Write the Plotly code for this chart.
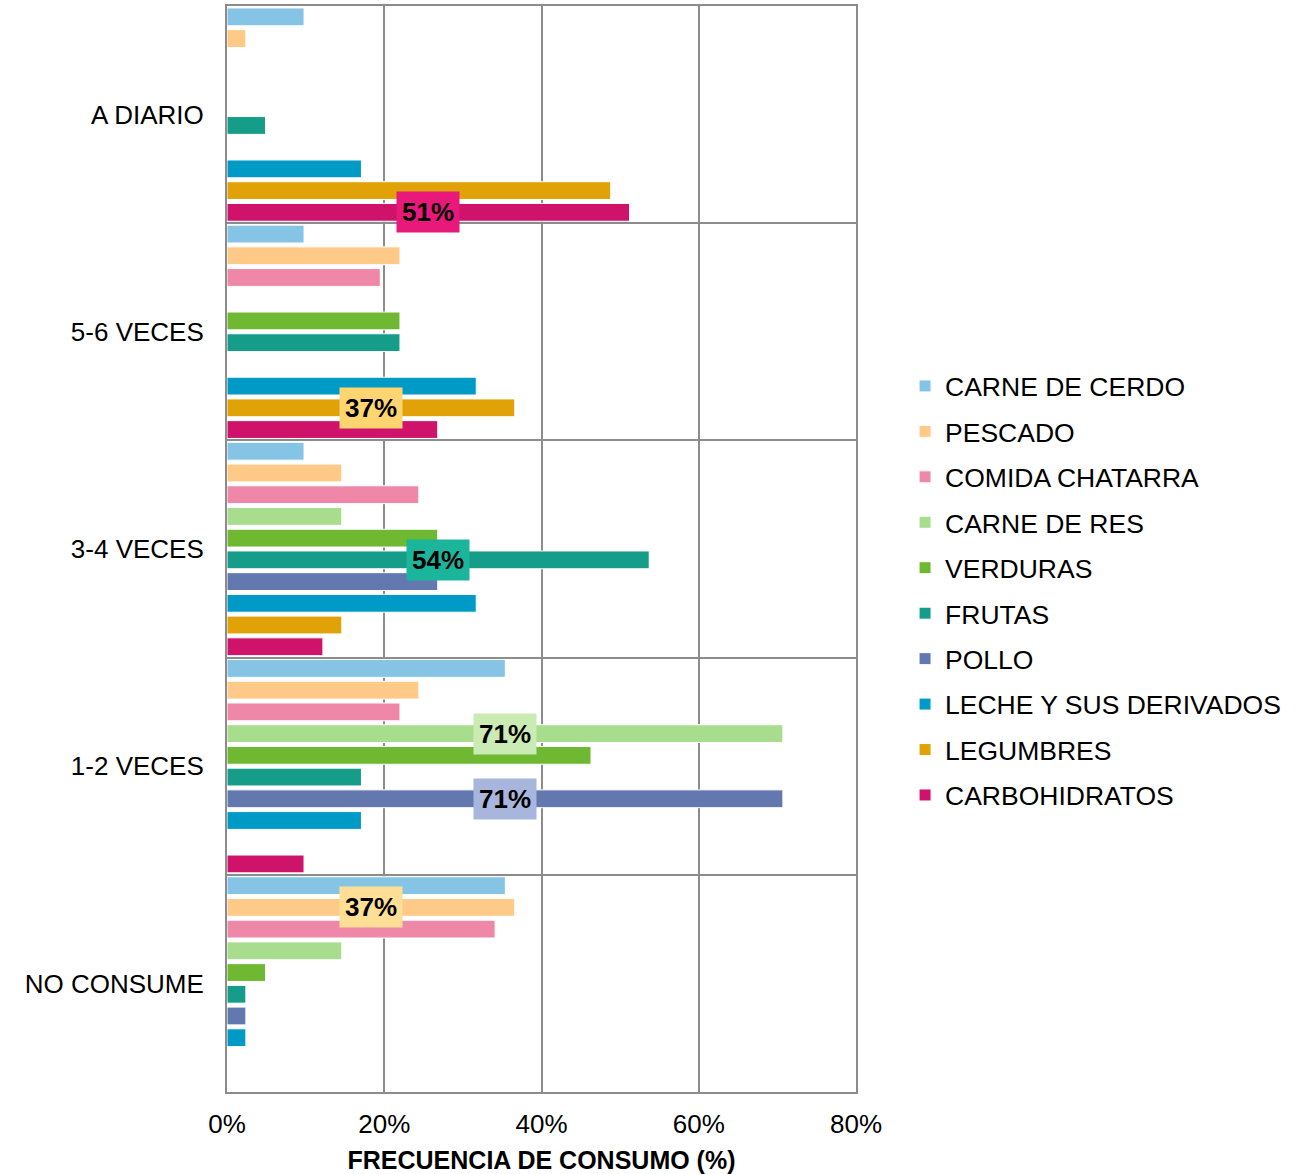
import plotly.graph_objects as go

categories = ["A DIARIO", "5-6 VECES", "3-4 VECES", "1-2 VECES", "NO CONSUME"]
series_names = ["CARNE DE CERDO", "PESCADO", "COMIDA CHATARRA", "CARNE DE RES", "VERDURAS",
                "FRUTAS", "POLLO", "LECHE Y SUS DERIVADOS", "LEGUMBRES", "CARBOHIDRATOS"]

# values in % for each series, ordered as categories
carne_de_cerdo = [9.8, 9.8, 9.8, 35.4, 35.4]
pescado = [2.4, 22.0, 14.6, 24.4, 36.6]
comida_chatarra = [0, 19.5, 24.4, 22.0, 34.1]
carne_de_res = [0, 0, 14.6, 70.7, 14.6]
verduras = [0, 22.0, 26.8, 46.3, 4.9]
frutas = [4.9, 22.0, 53.7, 17.1, 2.4]
pollo = [0, 0, 26.8, 70.7, 2.4]
leche = [17.1, 31.7, 31.7, 17.1, 2.4]
legumbres = [48.8, 36.6, 14.6, 0, 0]
carbohidratos = [51.2, 26.8, 12.2, 9.8, 0]

values = [carne_de_cerdo, pescado, comida_chatarra, carne_de_res, verduras,
          frutas, pollo, leche, legumbres, carbohidratos]

colors = ["#85C4E5", "#FFC987", "#EF88A8", "#A9DD8E", "#6FB832",
          "#169D89", "#6478B0", "#009AC7", "#E1A208", "#D0136A"]
label_bg = ["#B5DAF0", "#FFDF95", "#F5A9C0", "#CBEBB5", "#9FD36B",
            "#1BB59C", "#A8B6DD", "#4DBCE0", "#FFD572", "#E8197A"]

fig = go.Figure()
for i, (name, vals) in enumerate(zip(series_names, values)):
    fig.add_trace(go.Bar(
        y=categories, x=vals, name=name, orientation="h",
        marker=dict(color=colors[i], line=dict(color="white", width=1)),
        legendgroup=name,
    ))

n = len(series_names)
annotations = []
for ci, cat in enumerate(categories):
    col = [v[ci] for v in values]
    mx = max(col)
    for si, v in enumerate(col):
        if v == mx:
            annotations.append(dict(
                x=v / 2, y=ci - 0.5 + (si + 0.5) / n, xref="x", yref="y",
                text=f"<b>{round(v):d}%</b>", showarrow=False,
                font=dict(family="Liberation Sans, Arial", size=26, color="black"),
                bgcolor=label_bg[si], borderpad=5,
            ))

fig.update_layout(
    width=1297, height=1174,
    margin=dict(l=227, r=441, t=6, b=82, autoexpand=False),
    barmode="group", bargap=0, bargroupgap=0.18,
    plot_bgcolor="white", paper_bgcolor="white",
    font=dict(family="Liberation Sans, Arial", size=26, color="black"),
    legend=dict(x=1.078, xanchor="left", y=0.672, yanchor="top",
                font=dict(size=26.5), tracegroupgap=8, itemwidth=30,
                bgcolor="rgba(0,0,0,0)"),
    annotations=annotations,
    showlegend=True,
)
fig.update_xaxes(
    range=[0, 80], dtick=20, ticksuffix="%", automargin=False,
    showgrid=True, gridcolor="#8C8C8C", gridwidth=2,
    showline=True, linecolor="#8C8C8C", linewidth=2, mirror=True,
    zeroline=False, ticks="", ticklabelstandoff=8,
    tickfont=dict(family="Liberation Sans Narrow, Liberation Sans, Arial", size=26),
    title=dict(text="<b>FRECUENCIA DE CONSUMO (%)</b>", standoff=14,
               font=dict(family="Liberation Sans Narrow, Liberation Sans, Arial", size=25)),
)
fig.update_yaxes(
    autorange="reversed", categoryorder="array", categoryarray=categories,
    automargin=False,
    showgrid=True, gridcolor="#8C8C8C", gridwidth=2, tickson="boundaries",
    showline=True, linecolor="#8C8C8C", linewidth=2, mirror=True,
    ticks="", ticklabelstandoff=16,
    tickfont=dict(size=26),
)

fig.write_html("out.html")
